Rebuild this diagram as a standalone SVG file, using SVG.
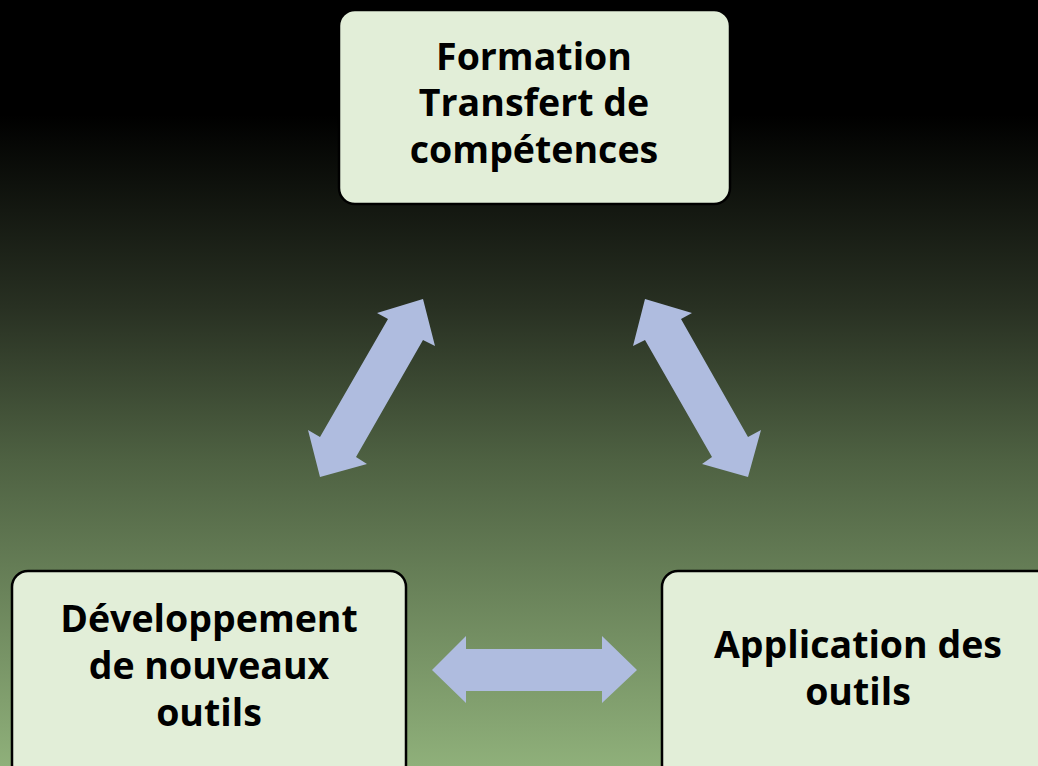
<svg xmlns="http://www.w3.org/2000/svg" width="1038" height="766" viewBox="0 0 1038 766">
  <defs>
    <linearGradient id="bg" x1="0" y1="0" x2="0" y2="1">
      <stop offset="0" stop-color="#000000"/>
      <stop offset="0.15" stop-color="#000000"/>
      <stop offset="0.4" stop-color="#283022"/>
      <stop offset="0.6" stop-color="#4e6142"/>
      <stop offset="1" stop-color="#8fb07a"/>
    </linearGradient>
  </defs>
  <style>
    .box { fill: #e2eed8; stroke: #000000; stroke-width: 2.5; }
    .label { font-family: "Open Sans", "Noto Sans", "Liberation Sans", sans-serif; font-weight: bold; font-size: 37.5px; fill: #000000; text-anchor: middle; }
    .arrow { fill: #afbcdf; }
  </style>

  <rect width="1038" height="766" fill="url(#bg)"/>

  <g id="connectors">
    <polygon class="arrow" points="423,299 435,346 423,340 356,457 367,464 320,477 308,430 320,437 388,319 377,313"/>
    <polygon class="arrow" points="645,299 692,313 681,319 748,437 761,430 748,477 702,464 712,457 645,340 633,346"/>
    <polygon class="arrow" points="432,670 466,636 466,649 602,649 602,636 637,670 602,703 602,691 466,691 466,703"/>
  </g>

  <g id="node-formation">
    <rect class="box" x="339" y="10" width="391" height="194" rx="16"/>
    <text class="label" x="534" y="70">Formation</text>
    <text class="label" x="534" y="116">Transfert de</text>
    <text class="label" x="534" y="163">compétences</text>
  </g>

  <g id="node-developpement">
    <rect class="box" x="12" y="571" width="394" height="210" rx="16"/>
    <text class="label" x="209" y="632">Développement</text>
    <text class="label" x="209" y="679">de nouveaux</text>
    <text class="label" x="209" y="726">outils</text>
  </g>

  <g id="node-application">
    <rect class="box" x="662" y="571" width="394" height="210" rx="16"/>
    <text class="label" x="858" y="658">Application des</text>
    <text class="label" x="858" y="705">outils</text>
  </g>
</svg>
